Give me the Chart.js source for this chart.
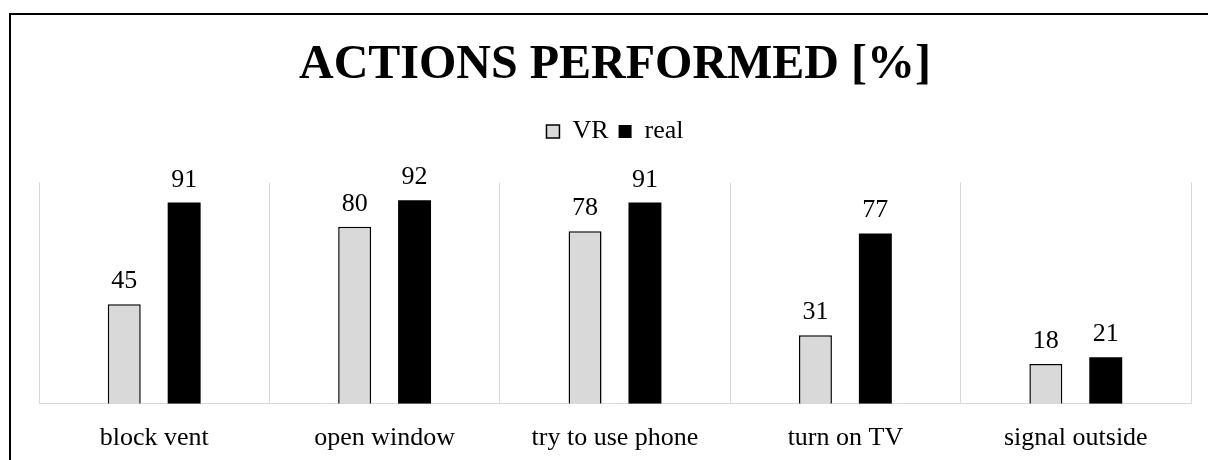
<!DOCTYPE html>
<html>
<head>
<meta charset="utf-8">
<script src="https://cdn.jsdelivr.net/npm/chart.js@4"></script>
<style>
  html, body { margin: 0; padding: 0; background: #fff; overflow: hidden; }
  #frame { position: absolute; left: 9px; top: 13px; width: 1300px; height: 600px;
           border-left: 2px solid #000; border-top: 2px solid #000; }
  #wrap { position: absolute; left: 0; top: 0; width: 1208px; height: 460px; }
</style>
</head>
<body>
<div id="frame"></div>
<div id="wrap"><canvas id="chart"></canvas></div>
<script>
    // Chart data
    const categories = ['block vent', 'open window', 'try to use phone', 'turn on TV', 'signal outside'];
    const vrValues = [45, 80, 78, 31, 18];
    const realValues = [91, 92, 91, 77, 21];

    const serif = '"Liberation Serif", "Times New Roman", serif';

    // Draw the value above each bar
    const valueLabels = {
        id: 'valueLabels',
        afterDatasetsDraw(chart) {
            const ctx = chart.ctx;
            ctx.save();
            ctx.font = '26px ' + serif;
            ctx.fillStyle = '#000';
            ctx.textAlign = 'center';
            ctx.textBaseline = 'alphabetic';
            chart.data.datasets.forEach((ds, i) => {
                chart.getDatasetMeta(i).data.forEach((bar, j) => {
                    ctx.fillText(ds.data[j], bar.x, bar.y - 16);
                });
            });
            ctx.restore();
        }
    };

    // Extra space under the legend
    const legendGap = {
        id: 'legendGap',
        beforeInit(chart) {
            const origFit = chart.legend.fit;
            chart.legend.fit = function () {
                origFit.call(this);
                this.height += 28;
            };
        }
    };

    new Chart(document.getElementById('chart'), {
        type: 'bar',
        data: {
            labels: categories,
            datasets: [
                { label: 'VR', data: vrValues, backgroundColor: '#d9d9d9', borderColor: '#000', borderWidth: 1.5 },
                { label: 'real', data: realValues, backgroundColor: '#000', borderColor: '#000', borderWidth: 0 }
            ]
        },
        options: {
            responsive: true,
            maintainAspectRatio: false,
            animation: false,
            datasets: { bar: { categoryPercentage: 0.52, barPercentage: 0.55 } },
            layout: { padding: { left: 39, right: 17, top: 0, bottom: 7 } },
            plugins: {
                title: {
                    display: true,
                    text: 'ACTIONS PERFORMED [%]',
                    color: '#000',
                    font: { family: serif, size: 48, weight: 'bold' },
                    padding: { top: 37, bottom: 14 }
                },
                legend: {
                    display: true,
                    labels: {
                        color: '#000',
                        font: { family: serif, size: 26 },
                        boxWidth: 13,
                        boxHeight: 13,
                        padding: 10
                    }
                },
                tooltip: { enabled: false }
            },
            scales: {
                x: {
                    grid: { color: '#d9d9d9', lineWidth: 1, drawTicks: false },
                    border: { color: '#d9d9d9' },
                    ticks: { color: '#000', font: { family: serif, size: 26 }, padding: 19 },
                    afterFit(scale) { scale.height -= 20; }
                },
                y: { display: false, min: 0, max: 100 }
            }
        },
        plugins: [valueLabels, legendGap]
    });
</script>
</body>
</html>
